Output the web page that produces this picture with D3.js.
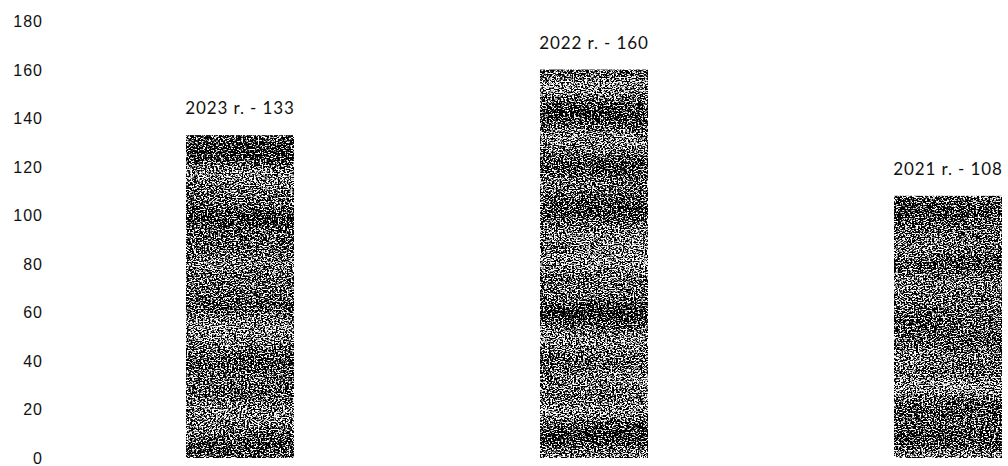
<!DOCTYPE html>
<html lang="en">
<head>
    <meta charset="UTF-8">
    <title>2021-2023</title>
    <script src="https://d3js.org/d3.v7.min.js"></script>
    <style>
        body {
            margin: 0;
            padding: 0;
            background: #fff;
            font-family: Lato, "Open Sans", sans-serif;
        }
        .tick-label {
            font-size: 16px;
            letter-spacing: 1px;
            fill: #111;
        }
        .bar-label {
            font-size: 17px;
            letter-spacing: 0.9px;
            fill: #111;
        }
    </style>
</head>
<body>
    <svg width="1008" height="466"></svg>
    <script>
        const years = ["2023", "2022", "2021"];
        const counts = [133, 160, 108];
        const yTicks = [0, 20, 40, 60, 80, 100, 120, 140, 160, 180];

        const svg = d3.select("svg");

        // scanned-looking grain for the bars
        const defs = svg.append("defs");
        const grain = defs.append("filter")
            .attr("id", "grain")
            .attr("x", 0).attr("y", 0)
            .attr("width", 1).attr("height", 1)
            .attr("color-interpolation-filters", "sRGB");
        const opaqueRed = "1 0 0 0 0  1 0 0 0 0  1 0 0 0 0  0 0 0 0 1";
        grain.append("feTurbulence")
            .attr("type", "fractalNoise")
            .attr("baseFrequency", "0.55 0.75")
            .attr("numOctaves", 2)
            .attr("seed", 11)
            .attr("result", "fine");
        grain.append("feColorMatrix")
            .attr("in", "fine")
            .attr("type", "matrix")
            .attr("values", opaqueRed)
            .attr("result", "fineA");
        grain.append("feTurbulence")
            .attr("type", "fractalNoise")
            .attr("baseFrequency", "0.002 0.04")
            .attr("numOctaves", 1)
            .attr("seed", 4)
            .attr("result", "bands");
        grain.append("feColorMatrix")
            .attr("in", "bands")
            .attr("type", "matrix")
            .attr("values", opaqueRed)
            .attr("result", "bandsA");
        grain.append("feComposite")
            .attr("in", "fineA")
            .attr("in2", "bandsA")
            .attr("operator", "arithmetic")
            .attr("k1", 0).attr("k2", 1).attr("k3", 0.25).attr("k4", -0.14)
            .attr("result", "mix");
        grain.append("feColorMatrix")
            .attr("in", "mix")
            .attr("type", "matrix")
            .attr("values", "3.5 0 0 0 -1.25  3.5 0 0 0 -1.25  3.5 0 0 0 -1.25  0 0 0 0 1")
            .attr("result", "grey");
        const ct = grain.append("feComponentTransfer")
            .attr("in", "grey")
            .attr("result", "levels");
        ["feFuncR", "feFuncG", "feFuncB"].forEach(f => {
            ct.append(f)
                .attr("type", "discrete")
                .attr("tableValues", "0 0 0 0 0.2 0.5 0.65 0.85 1 1");
        });
        grain.append("feComposite")
            .attr("in", "levels")
            .attr("in2", "SourceGraphic")
            .attr("operator", "in");

        const x = d3.scaleBand()
            .domain(years)
            .range([63, 1125])
            .paddingInner(0.695)
            .paddingOuter(0.3475);

        const y = d3.scaleLinear()
            .domain([0, 180])
            .range([458, 21]);

        // y axis labels only, no lines
        const yAxis = d3.axisLeft(y).tickValues(yTicks).tickSize(0).tickPadding(0);
        const ya = svg.append("g")
            .attr("transform", "translate(43,0)")
            .call(yAxis);
        ya.select(".domain").remove();
        ya.selectAll("text")
            .attr("class", "tick-label")
            .attr("font-family", null)
            .attr("font-size", null)
            .attr("fill", null)
            .attr("dy", "0.34em");

        const data = years.map((yr, i) => ({ year: yr, value: counts[i] }));

        svg.append("g")
            .selectAll("rect")
            .data(data)
            .enter().append("rect")
            .attr("x", d => x(d.year))
            .attr("y", d => y(d.value))
            .attr("width", x.bandwidth())
            .attr("height", d => y(0) - y(d.value))
            .attr("fill", "#777")
            .attr("filter", "url(#grain)");

        svg.append("g")
            .selectAll("text")
            .data(data)
            .enter().append("text")
            .attr("class", "bar-label")
            .attr("x", d => x(d.year) + x.bandwidth() / 2)
            .attr("y", d => y(d.value) - 21)
            .attr("text-anchor", "middle")
            .text(d => `${d.year} r. - ${d.value}`);
    </script>
</body>
</html>
